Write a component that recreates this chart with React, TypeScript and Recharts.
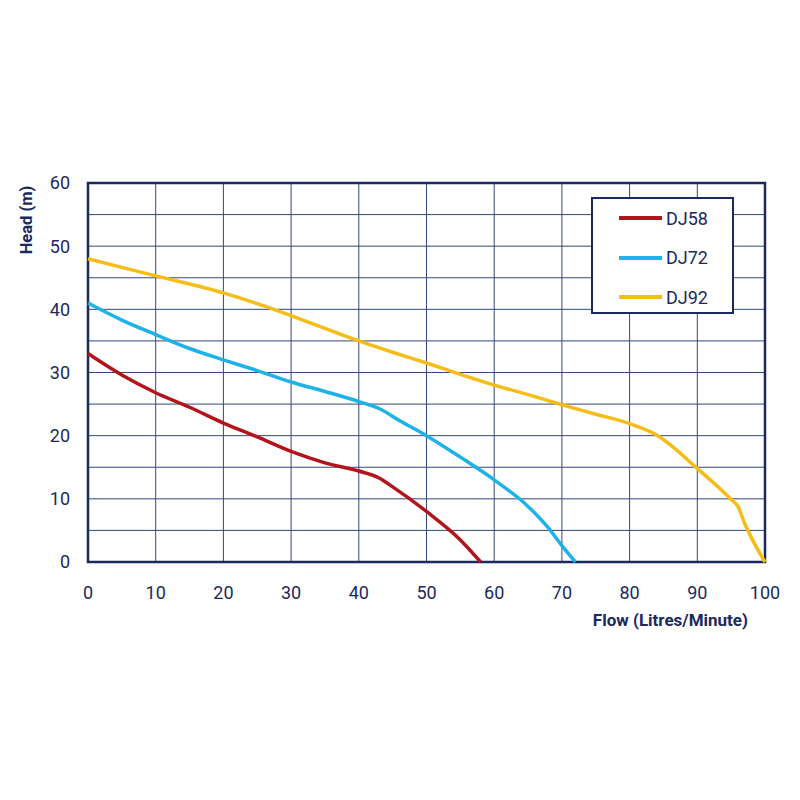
import { LineChart, Line, XAxis, YAxis, CartesianGrid, Legend, ReferenceArea } from 'recharts';

// Curve di prestazione pompe: portata (L/min) vs prevalenza (m)
const flowDJ58 = [0, 5, 10, 15, 20, 25, 30, 35, 40, 43, 45, 50, 55, 58];
const headDJ58 = [33, 29.6, 26.8, 24.5, 22, 19.8, 17.5, 15.7, 14.4, 13.3, 11.9, 8, 3.5, 0];

const flowDJ72 = [0, 5, 10, 15, 20, 25, 30, 35, 40, 43, 46, 50, 55, 60, 65, 68, 70, 72];
const headDJ72 = [41, 38.3, 36, 33.8, 32, 30.3, 28.5, 27, 25.4, 24.3, 22.4, 20, 16.6, 13, 8.8, 5.4, 2.6, 0];

const flowDJ92 = [0, 10, 20, 25, 30, 35, 40, 45, 50, 55, 60, 65, 70, 75, 80, 84, 90, 95, 96, 97, 100];
const headDJ92 = [48, 45.3, 42.6, 40.9, 39, 37, 35, 33.2, 31.5, 29.7, 28, 26.5, 24.9, 23.4, 21.9, 20.1, 14.8, 9.9, 8.8, 6.1, 0];

const xTicks = [0, 10, 20, 30, 40, 50, 60, 70, 80, 90, 100];
const yTicks = [0, 10, 20, 30, 40, 50, 60];
const yGridTicks = [0, 5, 10, 15, 20, 25, 30, 35, 40, 45, 50, 55, 60];

const series = [
  { name: 'DJ58', color: '#b3141c', data: flowDJ58.map((f, i) => ({ flow: f, head: headDJ58[i] })) },
  { name: 'DJ72', color: '#1db2e8', data: flowDJ72.map((f, i) => ({ flow: f, head: headDJ72[i] })) },
  { name: 'DJ92', color: '#f6bd17', data: flowDJ92.map((f, i) => ({ flow: f, head: headDJ92[i] })) },
];

const NAVY = '#1b2a5e';
const GRID = '#34477f';
const FONT = 'Roboto, "Noto Sans", sans-serif';

const LegendBox = () => (
  <div
    style={{
      width: 143,
      height: 117,
      boxSizing: 'border-box',
      border: `2px solid ${NAVY}`,
      background: '#fff',
      position: 'relative',
      fontFamily: FONT,
    }}
  >
    {series.map((s, i) => (
      <div key={s.name} style={{ position: 'absolute', left: 26, top: 8 + i * 39.5, height: 22, display: 'flex', alignItems: 'center' }}>
        <div style={{ width: 43, height: 4, background: s.color, marginRight: 4 }} />
        <span style={{ fontSize: 18, color: NAVY }}>{s.name}</span>
      </div>
    ))}
  </div>
);

export default function App() {
  return (
    <div style={{ width: 784, height: 680, fontFamily: FONT }}>
      <LineChart width={784} height={680} margin={{ top: 175, right: 27, left: 30, bottom: 66 }}>
        <CartesianGrid
          stroke={GRID}
          strokeWidth={1}
          horizontalCoordinatesGenerator={({ offset }: any) =>
            yGridTicks.map(v => offset.top + offset.height * (1 - v / 60))
          }
        />
        <XAxis
          type="number"
          dataKey="flow"
          domain={[0, 100]}
          ticks={xTicks}
          height={60}
          axisLine={false}
          tickLine={false}
          tickMargin={18}
          tick={{ fill: NAVY, fontSize: 18, fontFamily: FONT }}
          allowDuplicatedCategory={false}
          label={{
            content: ({ viewBox }: any) => (
              <text
                x={viewBox.x + viewBox.width - 17}
                y={viewBox.y + 64}
                textAnchor="end"
                fill={NAVY}
                fontSize={17}
                fontWeight={700}
                fontFamily={FONT}
              >
                Flow (Litres/Minute)
              </text>
            ),
          }}
        />
        <YAxis
          type="number"
          dataKey="head"
          domain={[0, 60]}
          ticks={yTicks}
          width={50}
          axisLine={false}
          tickLine={false}
          tickMargin={12}
          tick={{ fill: NAVY, fontSize: 18, fontFamily: FONT }}
          label={{
            content: ({ viewBox }: any) => {
              const x = viewBox.x - 6;
              const y = viewBox.y + 37;
              return (
                <text
                  x={x}
                  y={y}
                  transform={`rotate(-90 ${x} ${y})`}
                  textAnchor="middle"
                  fill={NAVY}
                  fontSize={16.5}
                  fontWeight={700}
                  fontFamily={FONT}
                >
                  Head (m)
                </text>
              );
            },
          }}
        />
        <ReferenceArea x1={0} x2={100} y1={0} y2={60} fill="none" stroke={NAVY} strokeWidth={2.5} />
        {series.map(s => (
          <Line
            key={s.name}
            data={s.data}
            dataKey="head"
            name={s.name}
            type="monotone"
            stroke={s.color}
            strokeWidth={3.5}
            dot={false}
            isAnimationActive={false}
          />
        ))}
        <Legend
          layout="vertical"
          align="center"
          verticalAlign="middle"
          content={() => <LegendBox />}
          wrapperStyle={{ left: 583, top: 189, width: 143, height: 117 }}
        />
      </LineChart>
    </div>
  );
}
